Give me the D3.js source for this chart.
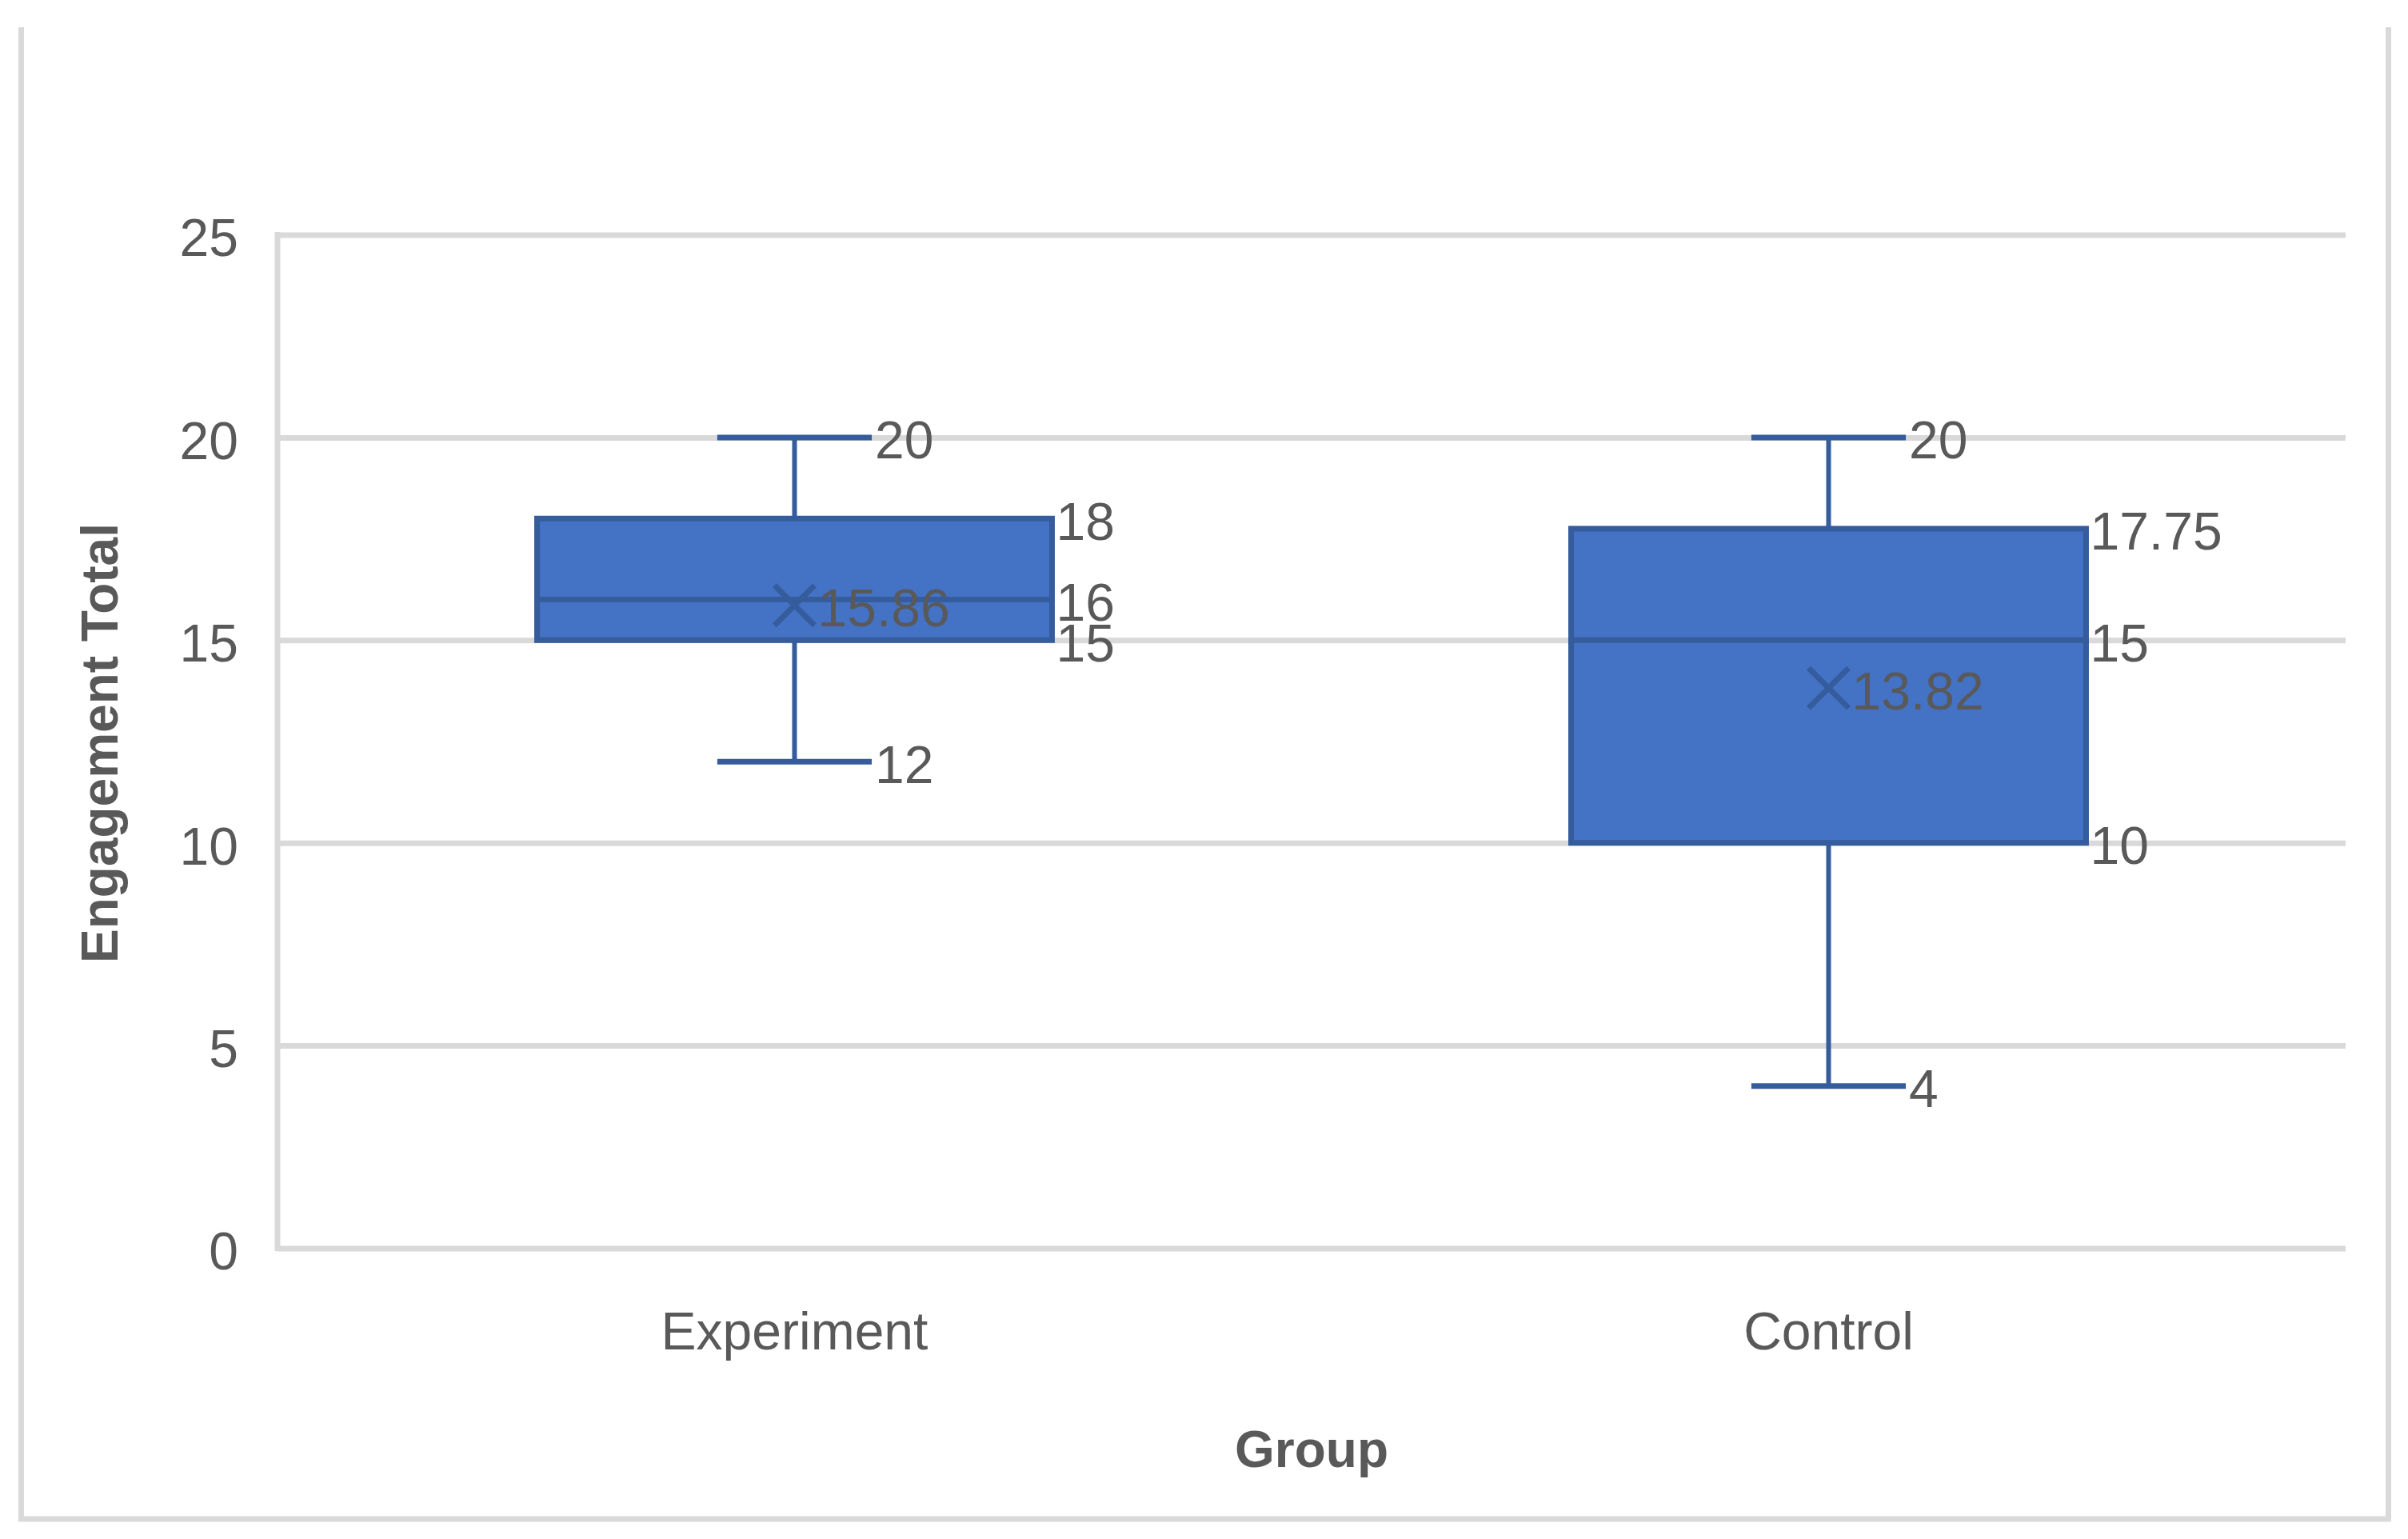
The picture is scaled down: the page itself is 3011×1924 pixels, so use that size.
<!DOCTYPE html>
<html>
<head>
<meta charset="utf-8">
<script src="https://cdn.jsdelivr.net/npm/d3@7"></script>
<style>
  html, body { margin: 0; padding: 0; background: #ffffff; }
  svg { display: block; }
</style>
</head>
<body>
<svg id="chart" width="3011" height="1924"></svg>
<script>
// ---- Data ----
const categories = ["Experiment", "Control"];
const minVals    = [12, 4];
const q1Vals     = [15, 10];
const medianVals = [16, 15];
const q3Vals     = [18, 17.75];
const maxVals    = [20, 20];
const meanVals   = [15.86, 13.82];
const yTicks     = [0, 5, 10, 15, 20, 25];
const yTitle = "Engagement Total";
const xTitle = "Group";

// ---- Layout ----
const W = 3011, H = 1924;
const plot = { left: 347, right: 2933, top: 293.5, bottom: 1560.5 };
const textColor = "#595959";
const gridColor = "#D9D9D9";
const fillColor = "#4472C4";
const strokeColor = "#355C9C";
const font = "'Liberation Sans', Arial, sans-serif";
const fs = 66;

const svg = d3.select("#chart");
svg.append("rect").attr("width", W).attr("height", H).attr("fill", "#fff");

// chart border (left, right, bottom visible)
svg.append("path")
  .attr("d", `M26.5,34 V1899 H2986.5 V34`)
  .attr("fill", "none").attr("stroke", gridColor).attr("stroke-width", 7);

const x = d3.scaleBand().domain(categories).range([plot.left, plot.right]).padding(0);
const y = d3.scaleLinear().domain([0, 25]).range([plot.bottom, plot.top]);

// gridlines via axis
const yAxis = d3.axisLeft(y).tickValues(yTicks).tickSize(-(plot.right - plot.left)).tickFormat(d3.format("d"));
const gy = svg.append("g").attr("transform", `translate(${plot.left},0)`).call(yAxis);
gy.select(".domain").remove();
gy.selectAll(".tick line").attr("stroke", gridColor).attr("stroke-width", 7);
gy.selectAll(".tick text")
  .attr("x", -49).attr("dy", "0.4em")
  .attr("fill", textColor).attr("font-family", font).attr("font-size", fs)
  .attr("text-anchor", "end");

// vertical axis line
svg.append("line")
  .attr("x1", plot.left).attr("x2", plot.left)
  .attr("y1", y(25) - 3.5).attr("y2", y(0) + 3.5)
  .attr("stroke", gridColor).attr("stroke-width", 7);

// x axis labels
const xAxis = d3.axisBottom(x).tickSize(0).tickPadding(0);
const gx = svg.append("g").attr("transform", `translate(0,${plot.bottom})`).call(xAxis);
gx.select(".domain").remove();
gx.selectAll(".tick text")
  .attr("y", 126).attr("dy", 0)
  .attr("fill", textColor).attr("font-family", font).attr("font-size", fs);

// titles
svg.append("text")
  .attr("transform", `translate(147,929) rotate(-90)`)
  .attr("text-anchor", "middle")
  .attr("fill", textColor).attr("font-family", font).attr("font-weight", "bold").attr("font-size", 64)
  .text(yTitle);
svg.append("text")
  .attr("x", (plot.left + plot.right) / 2).attr("y", 1834)
  .attr("text-anchor", "middle")
  .attr("fill", textColor).attr("font-family", font).attr("font-weight", "bold").attr("font-size", 64)
  .text(xTitle);

// ---- Boxes ----
const boxes = categories.map((c, i) => ({
  cat: c, min: minVals[i], q1: q1Vals[i], med: medianVals[i], q3: q3Vals[i], max: maxVals[i], mean: meanVals[i]
}));

const bw = x.bandwidth();
const boxHalf = bw * 0.249;
const capHalf = boxHalf * 0.3;
const sw = 7;

const g = svg.append("g");
boxes.forEach(b => {
  const cx = x(b.cat) + bw / 2;
  // whiskers
  g.append("line").attr("x1", cx).attr("x2", cx).attr("y1", y(b.q3)).attr("y2", y(b.max))
    .attr("stroke", strokeColor).attr("stroke-width", 6);
  g.append("line").attr("x1", cx).attr("x2", cx).attr("y1", y(b.q1)).attr("y2", y(b.min))
    .attr("stroke", strokeColor).attr("stroke-width", 6);
  // caps
  [b.max, b.min].forEach(v => {
    g.append("line").attr("x1", cx - capHalf).attr("x2", cx + capHalf).attr("y1", y(v)).attr("y2", y(v))
      .attr("stroke", strokeColor).attr("stroke-width", sw);
  });
  // box
  g.append("rect")
    .attr("x", cx - boxHalf).attr("width", boxHalf * 2)
    .attr("y", y(b.q3)).attr("height", y(b.q1) - y(b.q3))
    .attr("fill", fillColor).attr("stroke", strokeColor).attr("stroke-width", sw);
  // median
  g.append("line").attr("x1", cx - boxHalf).attr("x2", cx + boxHalf).attr("y1", y(b.med)).attr("y2", y(b.med))
    .attr("stroke", strokeColor).attr("stroke-width", sw);
  // mean marker X
  const m = 25;
  const my = y(b.mean);
  g.append("path")
    .attr("d", `M${cx - m},${my - m}L${cx + m},${my + m}M${cx - m},${my + m}L${cx + m},${my - m}`)
    .attr("stroke", strokeColor).attr("stroke-width", 7).attr("fill", "none");

  // labels
  const lab = (xx, v, txt) => g.append("text")
    .attr("x", xx).attr("y", y(v)).attr("dy", "0.4em")
    .attr("fill", textColor).attr("font-family", font).attr("font-size", fs)
    .text(txt);
  const fmt = v => String(v);
  lab(cx + capHalf + 4, b.max, fmt(b.max));
  lab(cx + capHalf + 4, b.min, fmt(b.min));
  lab(cx + boxHalf + 5, b.q3, fmt(b.q3));
  lab(cx + boxHalf + 5, b.q1, fmt(b.q1));
  if (b.med !== b.q1 && b.med !== b.q3) lab(cx + boxHalf + 5, b.med, fmt(b.med));
  lab(cx + m + 4, b.mean, fmt(b.mean));
});
</script>
</body>
</html>
